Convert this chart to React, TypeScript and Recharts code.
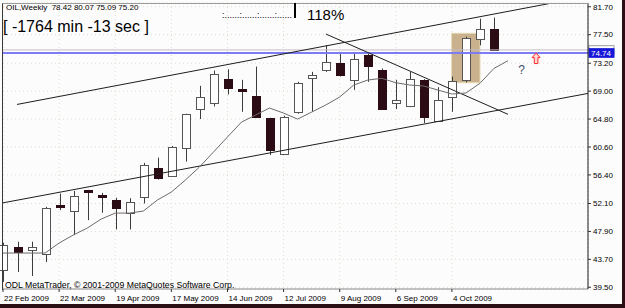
import React from "react";
import {
  ComposedChart,
  Bar,
  Line,
  XAxis,
  YAxis,
  CartesianGrid,
  ReferenceLine,
  ReferenceArea,
  ReferenceDot,
} from "recharts";

// weekly OIL candles, 22 Feb 2009 .. 25 Oct 2009
const opens = [42.2, 45.5, 45.1, 44.5, 51.9, 51.0, 54.1, 53.4, 52.7, 50.6, 53.1, 57.5, 56.2, 60.4, 66.3, 67.3, 70.8, 69.3, 68.3, 64.9, 59.6, 65.9, 70.9, 72.2, 73.2, 70.7, 74.4, 72.2, 67.2, 66.9, 70.7, 64.55, 68.1, 70.6, 76.8, 78.42];
const highs = [46.2, 46.35, 46.35, 51.6, 53.6, 54.0, 54.15, 53.7, 52.96, 52.9, 58.2, 59.0, 60.75, 65.6, 69.8, 72.1, 72.3, 70.7, 72.7, 65.0, 65.3, 70.4, 71.9, 75.9, 74.7, 74.9, 74.9, 72.4, 70.7, 71.9, 70.8, 69.6, 71.2, 77.2, 79.9, 80.07];
const lows = [40.3, 41.8, 41.2, 43.3, 51.1, 47.35, 49.6, 50.7, 48.2, 48.2, 52.1, 55.7, 56.1, 58.4, 64.8, 66.7, 68.5, 65.9, 65.0, 59.4, 59.4, 65.6, 65.9, 71.9, 71.2, 69.2, 70.4, 66.2, 66.3, 66.6, 64.2, 64.4, 65.9, 70.3, 75.9, 75.09];
const closes = [45.9, 44.7, 45.6, 51.4, 51.6, 53.2, 53.95, 53.1, 51.5, 52.3, 57.9, 56.0, 60.55, 65.55, 68.15, 71.6, 69.4, 69.0, 65.15, 60.1, 65.1, 70.2, 71.4, 73.4, 71.4, 73.9, 72.7, 66.4, 67.7, 70.9, 65.1, 67.7, 70.5, 76.95, 78.3, 75.2];
// moving average, shifted one bar to the right
const maValues = [44.65, 44.65, 44.65, 44.65, 46.15, 47.35, 48.4, 49.76, 50.66, 50.66, 50.96, 52.62, 53.82, 55.63, 57.58, 59.84, 62.1, 64.35, 65.4, 66.46, 65.7, 64.8, 65.85, 66.91, 68.12, 69.92, 70.67, 70.93, 70.27, 69.92, 69.77, 69.17, 68.57, 68.72, 70.18, 72.43, 73.58];

const tickIdx = [0, 4, 8, 12, 16, 20, 24, 28, 32];
const tickLabels = ["22 Feb 2009", "22 Mar 2009", "19 Apr 2009", "17 May 2009", "14 Jun 2009", "12 Jul 2009", "9 Aug 2009", "6 Sep 2009", "4 Oct 2009"];
const priceTicks = [81.7, 77.5, 73.2, 69.0, 64.8, 60.6, 56.4, 52.1, 47.9, 43.7, 39.5];

// drawn objects (bar index, price)
const upperChannel = [{ x: 1, y: 67.0 }, { x: 39, y: 82.2 }];
const lowerChannel = [{ x: 0, y: 52.2 }, { x: 41.7, y: 68.66 }];
const fallingLine = [{ x: 23.02, y: 77.59 }, { x: 36.0, y: 65.51 }];
const boxArea = { x1: 31.98, x2: 34.0, y1: 70.27, y2: 77.7 };
const bluePrice = 74.74;
const bidPrice = 75.2;

const data = maValues.map((ma, i) => ({
  i,
  open: opens[i],
  high: highs[i],
  low: lows[i],
  close: closes[i],
  ma,
}));

const FONT = "'Liberation Sans', Arial, sans-serif";

const Candle = (props: any) => {
  const { x, y, width, height, payload } = props;
  if (payload == null || payload.high == null || !isFinite(y)) return null;
  const top = Math.min(y, y + height);
  const h = Math.abs(height);
  const k = h / (payload.high - payload.low);
  const cx = Math.round(x + width / 2) + 0.5;
  const up = payload.close >= payload.open;
  let bTop = top + (payload.high - Math.max(payload.open, payload.close)) * k;
  let bBot = top + (payload.high - Math.min(payload.open, payload.close)) * k;
  if (bBot - bTop < 1.5) bBot = bTop + 1.5;
  return (
    <g>
      <line x1={cx} x2={cx} y1={top} y2={top + h} stroke="#3c3c3c" strokeWidth={1} />
      <rect
        x={cx - 4}
        y={Math.round(bTop) + 0.5}
        width={8}
        height={Math.max(1, Math.round(bBot - bTop))}
        fill={up ? "#ffffff" : "#2b0b14"}
        stroke={up ? "#555555" : "#2b0b14"}
        strokeWidth={1}
      />
    </g>
  );
};

const DateTick = (p: any) => (
  <text x={p.x + 1} y={p.y} dy={6.5} textAnchor="start" fontSize={8} fill="#000" fontFamily={FONT}>
    {tickLabels[tickIdx.indexOf(p.payload.value)]}
  </text>
);

// price tag at the right end of a horizontal line
const priceTag = (text: string, bg: string, fg: string, border: string) => (p: any) => {
  const vb = p.viewBox || {};
  const x = (vb.x || 0) + (vb.width || 0) + 1;
  const y = vb.y || 0;
  return (
    <g>
      <rect x={x} y={y - 4.3} width={25} height={8.6} fill={bg} stroke={border} strokeWidth={1} />
      {text ? (
        <text x={x + 2} y={y + 3} fontSize={8} fill={fg} fontFamily={FONT}>
          {text}
        </text>
      ) : null}
    </g>
  );
};

const ArrowShape = (p: any) => {
  const { cx, cy } = p;
  const pts = [
    [0, -5.5], [4, -1], [1.8, -1], [1.8, 5], [-1.8, 5], [-1.8, -1], [-4, -1],
  ].map(([dx, dy]) => `${cx + dx},${cy + dy}`).join(" ");
  return <polygon points={pts} fill="#ffd6d6" stroke="#ff2a2a" strokeWidth={1} />;
};

const QuestionShape = (p: any) => (
  <text x={p.cx} y={p.cy + 4.5} textAnchor="middle" fontSize={12} fill="#3f4e6e" fontFamily={FONT}>
    ?
  </text>
);

const txt = (left: number, top: number, size: number, s: string) => (
  <div
    style={{
      position: "absolute",
      left,
      top,
      fontSize: size,
      lineHeight: `${size}px`,
      fontFamily: FONT,
      color: "#000",
      whiteSpace: "pre",
    }}
  >
    {s}
  </div>
);

export default function App() {
  return (
    <div style={{ position: "relative", width: 625, height: 308, background: "#2a0f14", overflow: "hidden" }}>
      <style>{"body{margin:0}"}</style>
      <div style={{ position: "absolute", left: 0, top: 0, width: 622, height: 304, background: "#fdfcfd" }}>
        <ComposedChart width={622} height={304} data={data} margin={{ top: 3, right: 0, bottom: 0, left: 3 }}>
          <CartesianGrid stroke="#e2dacb" strokeDasharray="1 3" />
          <XAxis
            type="number"
            dataKey="i"
            domain={[0, 41.7]}
            ticks={tickIdx}
            interval={0}
            height={15}
            tickSize={3}
            tickMargin={2}
            axisLine={{ stroke: "#8a8a8a" }}
            tickLine={{ stroke: "#333" }}
            tick={<DateTick />}
          />
          <YAxis
            orientation="right"
            type="number"
            domain={[39.24, 82.26]}
            ticks={priceTicks}
            interval={0}
            width={34}
            tickSize={3}
            tickMargin={2}
            axisLine={{ stroke: "#1a1a1a" }}
            tickLine={{ stroke: "#333" }}
            tick={{ fontSize: 8, fill: "#000", fontFamily: FONT }}
            tickFormatter={(v: number) => v.toFixed(2)}
          />
          <ReferenceArea
            x1={boxArea.x1}
            x2={boxArea.x2}
            y1={boxArea.y1}
            y2={boxArea.y2}
            fill="#c9b18d"
            fillOpacity={1}
            stroke="#e4d8b0"
          />
          <ReferenceLine y={bidPrice} stroke="#c4bcc4" strokeWidth={1} label={priceTag("", "#fdfcfd", "#333", "#a0a0a0")} />
          <ReferenceLine y={bluePrice} stroke="#7c7cf4" strokeWidth={2} label={priceTag("74.74", "#1818d8", "#ffffff", "#1818d8")} />
          <ReferenceLine segment={upperChannel} stroke="#1e1e1e" strokeWidth={1} />
          <ReferenceLine segment={lowerChannel} stroke="#1e1e1e" strokeWidth={1} />
          <ReferenceLine segment={fallingLine} stroke="#1e1e1e" strokeWidth={1} />
          <Line
            type="linear"
            dataKey="ma"
            stroke="#6e6a6a"
            strokeWidth={1}
            dot={false}
            isAnimationActive={false}
          />
          <Bar
            dataKey={(d: any) => (d.high == null ? null : [d.low, d.high])}
            barSize={9}
            shape={<Candle />}
            isAnimationActive={false}
          />
          <ReferenceDot x={38} y={73.9} r={0} shape={<ArrowShape />} />
          <ReferenceDot x={36.96} y={72.25} r={0} shape={<QuestionShape />} />
        </ComposedChart>
        <div
          style={{
            position: "absolute",
            left: 2,
            top: 3,
            width: 586,
            height: 286,
            borderLeft: "1px solid #3a3a3a",
            borderTop: "1px solid #9a9a9a",
            pointerEvents: "none",
          }}
        />
        {txt(6, 4, 8, "OIL,Weekly  78.42 80.07 75.09 75.20")}
        {txt(3, 19, 16, "[ -1764 min -13 sec ]")}
        {txt(222, 10.5, 9, ":......:......:......:......")}
        <div style={{ position: "absolute", left: 294, top: 3, width: 2, height: 15, background: "#000" }} />
        {txt(307, 6.5, 15, "118%")}
        {txt(5, 281, 8.7, "ODL MetaTrader, \u00a9 2001-2009 MetaQuotes Software Corp.")}
      </div>
    </div>
  );
}
